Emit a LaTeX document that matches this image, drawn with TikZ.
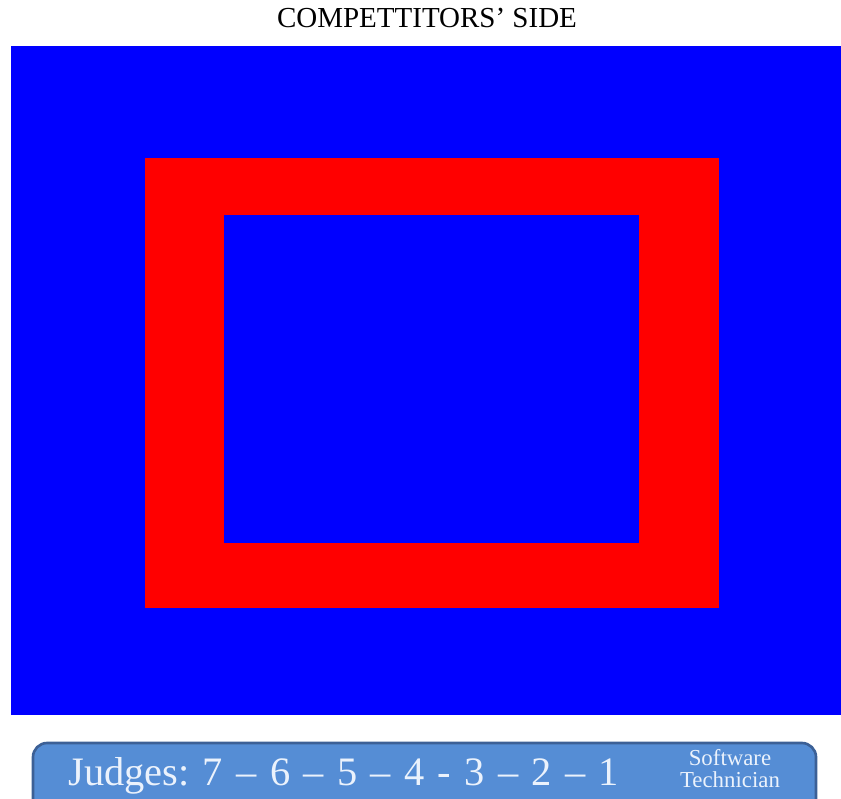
\documentclass[tikz,border=0pt]{standalone}
\usepackage{fontspec}
\setmainfont{Liberation Serif}
\usetikzlibrary{positioning}
\definecolor{matblue}{RGB}{0,0,255}
\definecolor{matred}{RGB}{255,0,0}
\definecolor{barfill}{RGB}{85,141,213}
\definecolor{barline}{RGB}{60,96,150}
\definecolor{bartext}{RGB}{235,242,252}
\newcommand\widespaces{\spaceskip=7.6pt\relax\xspaceskip=7.6pt\relax}

\begin{document}
\begin{tikzpicture}[x=0.02cm,y=-0.02cm,
  area/.style={fill=matblue},
  zone/.style={fill=matred},
  bar/.style={draw=barline,line width=1.5pt,fill=barfill,rounded corners=8pt},
  title/.style={font=\fontsize{16.5}{18}\selectfont,text=black},
  judges/.style={font=\fontsize{23}{26}\selectfont\widespaces,text=bartext,anchor=base west,inner sep=0pt},
  staff/.style={font=\fontsize{13}{12.5}\selectfont,text=bartext,align=center,inner sep=0pt}
]
\useasboundingbox (0,0) rectangle (841,798);
\clip (0,0) rectangle (841,798);
% mat
\fill[area] (11,46) rectangle (841,715);
\fill[zone] (145,158) rectangle (719,608);
\fill[area] (224,215) rectangle (639,543);
\node[title] (side) at (427,18) {COMPETTITORS’ SIDE};
% judges table
\draw[bar] (33,743) rectangle (816,830);
\node[judges] (judges) at (68,785) {Judges: 7 – 6 – 5 – 4 - 3 – 2 – 1};
\node[staff] (tech) at (730,769) {Software\\Technician};
\end{tikzpicture}
\end{document}
